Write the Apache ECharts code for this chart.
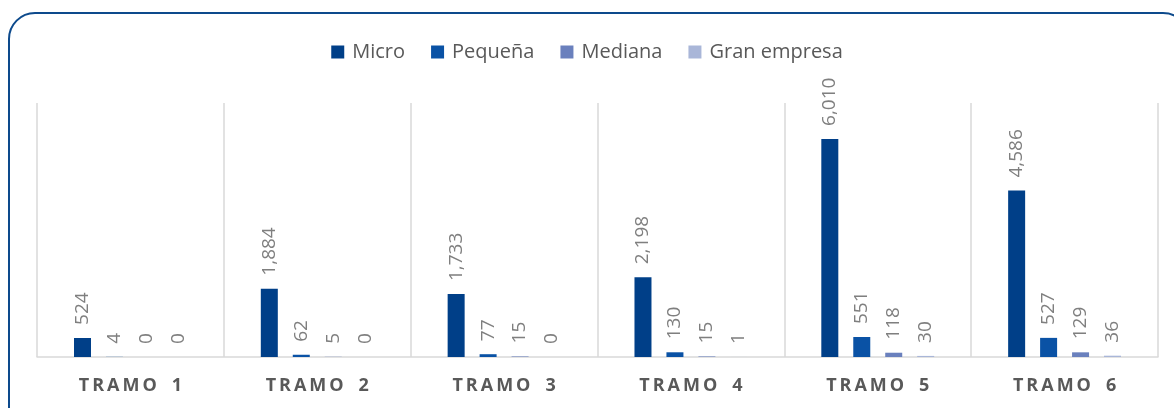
<!DOCTYPE html>
<html><head><meta charset="utf-8">
<script src="https://cdn.jsdelivr.net/npm/echarts@6/dist/echarts.min.js"></script>
<style>
html,body{margin:0;padding:0;background:#fff;}
#wrap{position:relative;width:1174px;height:408px;overflow:hidden;}
#frame{position:absolute;left:8px;top:12px;width:1182px;height:430px;border:2.5px solid #0d4a8c;border-radius:27px;box-sizing:border-box;}
#chart{position:absolute;left:0;top:0;width:1174px;height:408px;}
</style></head>
<body><div id="wrap"><div id="frame"></div><div id="chart"></div></div>
<script>
const categories = ['TRAMO 1','TRAMO 2','TRAMO 3','TRAMO 4','TRAMO 5','TRAMO 6'];
const seriesNames = ['Micro','Pequeña','Mediana','Gran empresa'];
const micro = [524, 1884, 1733, 2198, 6010, 4586];
const pequena = [4, 62, 77, 130, 551, 527];
const mediana = [0, 5, 15, 15, 118, 129];
const granEmpresa = [0, 0, 0, 1, 30, 36];
const colors = ['#003f88', '#0a52a5', '#6a80bd', '#a9b6d8'];
const values = [micro, pequena, mediana, granEmpresa];

const chart = echarts.init(document.getElementById('chart'), null, {renderer:'canvas'});
const font = '"Open Sans", sans-serif';
function spaced(v){
  return v.split(' ').map(w=>w.split('').join('\u2009')).join('\u2009\u2002\u2009');
}
chart.setOption({
  animation:false,
  backgroundColor:'transparent',
  legend:{
    top:37, left:'center', itemWidth:13, itemHeight:13, itemGap:26,
    icon:'rect',
    textStyle:{color:'#595959', fontSize:20, fontFamily:font, padding:[0,0,0,3]},
    data:seriesNames
  },
  grid:{left:37, right:16, top:103, bottom:51},
  xAxis:{
    type:'category', data:categories,
    axisLine:{show:true, lineStyle:{color:'#d9d9d9', width:1.5}},
    axisTick:{show:false},
    splitLine:{show:true, lineStyle:{color:'#d9d9d9', width:1.5}},
    axisLabel:{
      color:'#595959', fontSize:18, fontWeight:'bold', fontFamily:font, margin:20,
      formatter:spaced
    }
  },
  yAxis:{type:'value', min:0, max:7000, show:false, splitLine:{show:false}},
  series: seriesNames.map((n,i)=>({
    name:n, type:'bar', data:values[i], barWidth:17, barGap:'88%',
    itemStyle:{color:colors[i]},
    label:{
      show:true, position:'top', rotate:90, align:'left', verticalAlign:'middle',
      distance:13, color:'#7f7f7f', fontSize:19, fontFamily:font,
      formatter:p=>p.value.toLocaleString('en-US')
    }
  }))
});
</script></body></html>
